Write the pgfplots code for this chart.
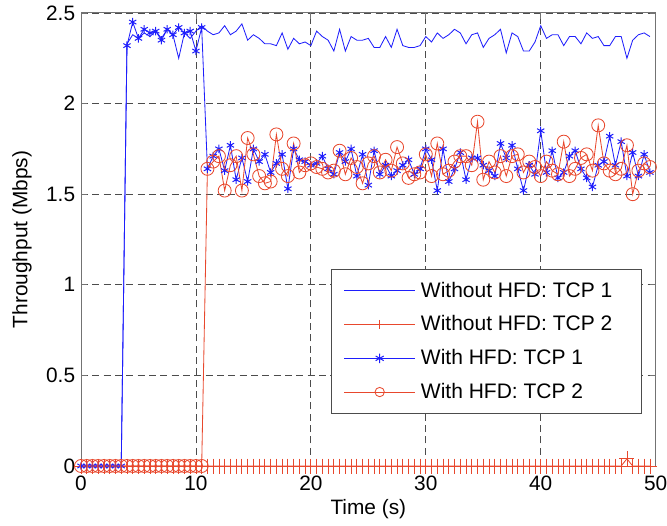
\documentclass[border=0pt]{standalone}
\usepackage{fontspec}
\setmainfont{Liberation Sans}
\usepackage{pgfplots}
\usepackage{pgfplotstable}
\pgfplotsset{compat=1.18}
\definecolor{mblue}{RGB}{30,30,252}
\definecolor{mred}{RGB}{232,72,45}

\pgfplotstableread{
t A B C D
0 0 0 0 0
0.5 0 0 0 0
1 0 0 0 0
1.5 0 0 0 0
2 0 0 0 0
2.5 0 0 0 0
3 0 0 0 0
3.5 0 0 0 0
4 2.33 0 2.32 0
4.5 2.38 0 2.45 0
5 2.36 0 2.36 0
5.5 2.39 0 2.41 0
6 2.37 0 2.39 0
6.5 2.40 0 2.40 0
7 2.36 0 2.35 0
7.5 2.41 0 2.41 0
8 2.38 0 2.38 0
8.5 2.25 0 2.42 0
9 2.39 0 2.39 0
9.5 2.36 0 2.40 0
10 2.40 0 2.29 0
10.5 2.43 0 2.42 0
11 2.40 0 1.64 1.64
11.5 2.38 0 1.71 1.68
12 2.39 0 1.75 1.71
12.5 2.43 0 1.63 1.52
13 2.38 0 1.77 1.66
13.5 2.40 0 1.58 1.71
14 2.44 0 1.70 1.52
14.5 2.35 0 1.57 1.81
15 2.38 0 1.75 1.72
15.5 2.36 0 1.68 1.60
16 2.33 0 1.72 1.56
16.5 2.33 0 1.62 1.57
17 2.32 0 1.67 1.83
17.5 2.39 0 1.72 1.64
18 2.30 0 1.53 1.60
18.5 2.36 0 1.75 1.78
19 2.33 0 1.69 1.62
19.5 2.34 0 1.68 1.66
20 2.32 0 1.66 1.67
20.5 2.40 0 1.67 1.65
21 2.37 0 1.71 1.64
21.5 2.35 0 1.64 1.62
22 2.29 0 1.61 1.63
22.5 2.41 0 1.73 1.74
23 2.29 0 1.68 1.61
23.5 2.37 0 1.75 1.70
24 2.35 0 1.60 1.65
24.5 2.35 0 1.72 1.56
25 2.36 0 1.55 1.67
25.5 2.31 0 1.74 1.71
26 2.31 0 1.61 1.62
26.5 2.37 0 1.66 1.69
27 2.31 0 1.60 1.63
27.5 2.41 0 1.63 1.76
28 2.32 0 1.66 1.67
28.5 2.31 0 1.69 1.59
29 2.31 0 1.61 1.61
29.5 2.32 0 1.64 1.62
30 2.37 0 1.75 1.72
30.5 2.34 0 1.69 1.60
31 2.39 0 1.52 1.78
31.5 2.36 0 1.75 1.61
32 2.38 0 1.57 1.63
32.5 2.41 0 1.64 1.68
33 2.39 0 1.73 1.71
33.5 2.33 0 1.58 1.71
34 2.38 0 1.70 1.66
34.5 2.39 0 1.70 1.90
35 2.31 0 1.66 1.58
35.5 2.36 0 1.63 1.68
36 2.38 0 1.60 1.62
36.5 2.41 0 1.78 1.71
37 2.28 0 1.70 1.60
37.5 2.39 0 1.77 1.71
38 2.37 0 1.64 1.72
38.5 2.29 0 1.52 1.62
39 2.29 0 1.66 1.68
39.5 2.34 0 1.61 1.65
40 2.43 0 1.85 1.60
40.5 2.36 0 1.62 1.68
41 2.38 0 1.74 1.63
41.5 2.38 0 1.59 1.61
42 2.32 0 1.62 1.79
42.5 2.37 0 1.71 1.60
43 2.37 0 1.74 1.64
43.5 2.33 0 1.64 1.70
44 2.39 0 1.59 1.72
44.5 2.36 0 1.54 1.63
45 2.37 0 1.66 1.88
45.5 2.32 0 1.68 1.67
46 2.32 0 1.82 1.63
46.5 2.37 0 1.66 1.61
47 2.37 0 1.79 1.64
47.5 2.25 0.04 1.60 1.77
48 2.35 0 1.73 1.50
48.5 2.38 0 1.60 1.63
49 2.39 0 1.72 1.67
49.5 2.37 0 1.62 1.65
}\datatable

\begin{document}
\begin{tikzpicture}
\begin{axis}[
  width=344.8pt, height=271.8pt, scale only axis,
  xmin=0, xmax=50, ymin=0, ymax=2.5,
  xtick={0,10,...,50}, ytick={0,0.5,1,1.5,2,2.5},
  grid=major,
  major grid style={black!70, line width=0.5pt, dash pattern=on 4.2pt off 2.6pt},
  tick align=inside, major tick length=3.5pt,
  axis line style={black!55, line width=0.6pt},
  tick style={black!55, line width=0.5pt},
  font=\fontsize{12.5}{15}\selectfont,
  /pgf/number format/assume math mode=true,
  xlabel={Time (s)}, ylabel={Throughput (Mbps)},
  xticklabel style={yshift=-2.2pt},
  ylabel style={at={(axis description cs:-0.1027,0.5)}, anchor=center},
  xlabel style={at={(axis description cs:0.5,-0.096)}, anchor=center},
  legend style={at={(0.9757,0.1148)}, anchor=south east, draw=black!70,
    line width=0.5pt, font=\fontsize{12.6}{15}\selectfont,
    row sep=5.6pt, inner xsep=7.2pt, inner ysep=5.6pt,
    /tikz/every odd column/.append style={column sep=1.2pt}},
  legend cell align=left,
  legend image code/.code={\draw[mark repeat=2,mark phase=2,#1,mark size=2.8pt] plot coordinates {(0pt,0pt) (21.3pt,0pt) (42.6pt,0pt)};},
  clip=false,
]
\addplot[mblue, line width=0.5pt, no markers] table[x=t,y=A] {\datatable};
\addlegendentry{\makebox[123pt][l]{Without HFD: TCP 1}}
\addplot[mred, line width=0.5pt, mark=+, mark size=4.5pt, mark options={line width=0.5pt}] table[x=t,y=B] {\datatable};
\addlegendentry{\makebox[123pt][l]{Without HFD: TCP 2}}
\addplot[mblue, line width=0.5pt, mark=asterisk, mark size=2.5pt, mark options={line width=0.6pt}] table[x=t,y=C] {\datatable};
\addlegendentry{\makebox[123pt][l]{With HFD: TCP 1}}
\addplot[mred, line width=0.5pt, mark=o, mark size=3.9pt, mark options={line width=0.5pt, fill=none}] table[x=t,y=D] {\datatable};
\addlegendentry{\makebox[123pt][l]{With HFD: TCP 2}}
\end{axis}
\pgfresetboundingbox
\path[use as bounding box] ([shift={(-48.6pt,-35.4pt)}]current axis.south west) rectangle ([shift={(6.8pt,7.8pt)}]current axis.north east);
\end{tikzpicture}
\end{document}
